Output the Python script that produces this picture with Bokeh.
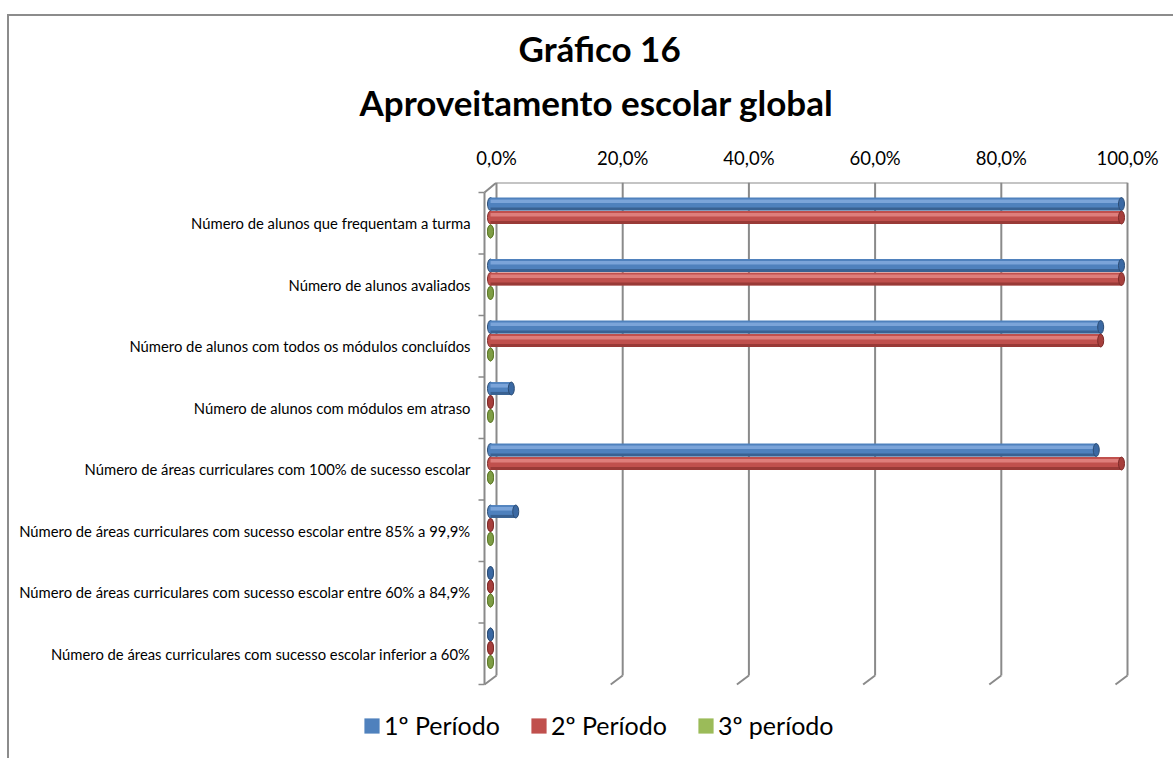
from bokeh.plotting import figure
from bokeh.models import (Range1d, FixedTicker, LinearAxis, ColumnDataSource, Legend,
                          LegendItem, Title)
from bokeh.core.properties import value
from bokeh.embed import file_html
from bokeh.resources import INLINE

# ---------------- data ----------------
categories = [
    "Número de alunos que frequentam a turma",
    "Número de alunos avaliados",
    "Número de alunos com todos os módulos concluídos",
    "Número de alunos com módulos em atraso",
    "Número de áreas curriculares com 100% de sucesso escolar",
    "Número de áreas curriculares com sucesso escolar entre 85% a 99,9%",
    "Número de áreas curriculares com sucesso escolar entre 60% a 84,9%",
    "Número de áreas curriculares com sucesso escolar inferior a 60%",
]
series_names = ["1º Período", "2º Período", "3º período"]
periodo1 = [1.0, 1.0, 0.967, 0.033, 0.96, 0.04, 0.0, 0.0]
periodo2 = [1.0, 1.0, 0.967, 0.0, 1.0, 0.0, 0.0, 0.0]
periodo3 = [0.0, 0.0, 0.0, 0.0, 0.0, 0.0, 0.0, 0.0]
x_ticks = [0, 0.2, 0.4, 0.6, 0.8, 1.0]
x_tick_labels = ["0,0%", "20,0%", "40,0%", "60,0%", "80,0%", "100,0%"]
title_lines = ["Gráfico 16", "Aproveitamento escolar global"]

# ---------------- style / geometry ----------------
FONT = "Lato"
W, H = 1173, 758
PXX = 1 / 631.0      # data units per pixel (x)
PXY = 1 / 61.5       # data units per pixel (y)
main_c = ["#4F81BD", "#C0504D", "#9BBB59"]
light_c = ["#86ADE0", "#E58A87", "#C2DA92"]
dark_c = ["#2C4D75", "#7F2B29", "#5E7A2A"]
cap_c = ["#3B69A3", "#A63F3C", "#7E9D45"]
offsets = [0.187, 0.407, 0.634]
bar_h = 0.21
grid_c = "#8A8A8A"

frame_left, frame_top = 18, 182      # px; frame runs to the right and bottom edges
x0 = (frame_left - 490) * PXX
x1 = (W - 490) * PXX
y_top = -10 * PXY
y_bottom = 8 + (H - 684) * PXY

p = figure(width=W, height=H, output_backend="svg", toolbar_location=None,
           x_range=Range1d(x0, x1), y_range=Range1d(y_bottom, y_top),
           x_axis_type=None, y_axis_type=None,
           min_border_left=frame_left, min_border_right=0, min_border_top=frame_top,
           min_border_bottom=0)
p.styles = {"box-shadow": "inset 0 14px 0 0 #ffffff, inset 7px 0 0 0 #ffffff, "
                          "inset 9px 0 0 0 #8C8C8C, inset 0 16px 0 0 #8C8C8C"}
p.extra_x_ranges = {"back": Range1d(x0 - 6 * PXX, x1 - 6 * PXX)}
p.outline_line_color = None
p.grid.visible = False
p.background_fill_color = None
p.border_fill_color = None
p.title.visible = False

# top axis (values)
top_axis = LinearAxis(x_range_name="back", ticker=FixedTicker(ticks=x_ticks),
                      major_label_overrides=dict(zip(x_ticks, x_tick_labels)))
top_axis.axis_line_color = None
top_axis.major_tick_line_color = None
top_axis.minor_tick_line_color = None
top_axis.major_tick_out = 0
top_axis.minor_tick_out = 0
top_axis.major_label_text_font = FONT
top_axis.major_label_text_font_size = "18.5px"
top_axis.major_label_text_color = "#000000"
top_axis.major_label_standoff = 14
p.add_layout(top_axis, "above")

# two-line title, each line centred on the chart
t2 = Title(text=title_lines[1], align="left", offset=359 - frame_left, text_font=FONT,
           text_font_size="35px", text_font_style="bold", text_color="#000000", standoff=42)
t1 = Title(text=title_lines[0], align="left", offset=518 - frame_left, text_font=FONT,
           text_font_size="35px", text_font_style="bold", text_color="#000000", standoff=-22)
p.add_layout(t2, "above")
p.add_layout(t1, "above")

# ---- 3D walls: gridlines on the back wall with slanted bottoms ----
back_bottom = 483 * PXY
depth_x = 12 * PXX
n = len(x_ticks)
p.segment(x0=x_ticks, y0=[y_top] * n, x1=x_ticks, y1=[back_bottom] * n,
          x_range_name="back", line_color=grid_c, line_width=2)
p.segment(x0=x_ticks, y0=[back_bottom] * n, x1=[t - depth_x for t in x_ticks], y1=[8] * n,
          x_range_name="back", line_color=grid_c, line_width=2)
p.segment(x0=[x_ticks[0]], y0=[y_top], x1=[x_ticks[-1]], y1=[y_top],
          x_range_name="back", line_color=grid_c, line_width=2)
# front left axis with slanted top and category ticks
p.segment(x0=[-depth_x], y0=[0], x1=[-depth_x], y1=[8], x_range_name="back",
          line_color=grid_c, line_width=2)
p.segment(x0=[-depth_x], y0=[0], x1=[0], y1=[y_top], x_range_name="back",
          line_color=grid_c, line_width=2)
bounds = list(range(len(categories) + 1))
p.segment(x0=[-depth_x - 6 * PXX] * len(bounds), y0=bounds,
          x1=[-depth_x] * len(bounds), y1=bounds, x_range_name="back",
          line_color=grid_c, line_width=1.5)

# category labels
centers = [i + 0.5 for i in range(len(categories))]
p.text(x=[-depth_x - 14 * PXX] * len(categories), y=centers, text=categories,
       x_range_name="back", text_align="right", text_baseline="middle",
       text_font=value(FONT), text_font_size="14.8px", text_color="#000000")

# ---- cylinder bars ----
all_vals = [periodo1, periodo2, periodo3]
legend_items = []
for s, vals in enumerate(all_vals):
    ys = [i + offsets[s] for i in range(len(categories))]
    src = ColumnDataSource(dict(y=ys, v=vals, zero=[0] * len(vals),
                                yhi=[y - 0.045 for y in ys], ylo=[y + 0.08 for y in ys]))
    p.ellipse(x="zero", y="y", width=6, width_units="screen", height=bar_h,
              source=src, fill_color=main_c[s], line_color=dark_c[s], line_width=1)
    body = p.hbar(y="y", left="zero", right="v", height=bar_h, source=src,
                  fill_color=main_c[s], line_color=None)
    p.hbar(y="yhi", left="zero", right="v", height=0.06, source=src,
           fill_color=light_c[s], fill_alpha=0.8, line_color=None)
    p.hbar(y="ylo", left="zero", right="v", height=0.05, source=src,
           fill_color=dark_c[s], fill_alpha=0.6, line_color=None)
    p.ellipse(x="v", y="y", width=6, width_units="screen", height=bar_h,
              source=src, fill_color=cap_c[s], line_color=dark_c[s], line_width=1)
    legend_items.append(LegendItem(label=series_names[s], renderers=[body]))

legend = Legend(items=legend_items, orientation="horizontal",
                location=(362 - frame_left, 18))
legend.label_text_font = FONT
legend.label_text_font_size = "25px"
legend.label_text_color = "#000000"
legend.glyph_width = 19
legend.glyph_height = 19
legend.spacing = 29
legend.label_standoff = 3
legend.border_line_color = None
legend.background_fill_color = None
legend.margin = 0
legend.padding = 4
p.add_layout(legend, "center")

open("out.html", "w").write(file_html(p, INLINE))
